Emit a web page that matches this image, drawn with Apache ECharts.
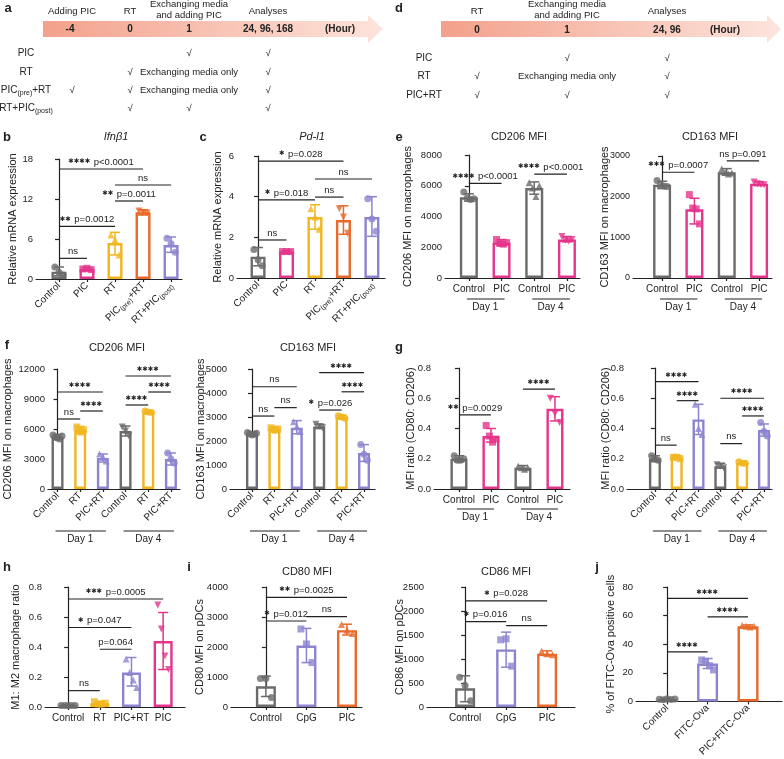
<!DOCTYPE html>
<html><head><meta charset="utf-8">
<script src="https://cdn.jsdelivr.net/npm/echarts@6/dist/echarts.min.js"></script>
<style>html,body{margin:0;padding:0;background:#fff}#c{width:784px;height:759px}</style>
</head><body><div id="c"></div>
<script>
// ---------- DATA ----------
const bLabels = ['Control','PIC','RT','PIC{s|(pre)}+RT','RT+PIC{s|(post)}'];
const bMeans = [1.1, 1.5, 5.4, 10.0, 5.1];
const bErr = [[0.5,1.8],[1.3,1.7],[3.6,7.0],[9.6,10.4],[4.0,6.3]];
const bPts = [[1.8,1.0,0.6],[1.5,1.6,1.4],[6.6,5.9,3.6],[10.2,9.9,9.9],[6.1,5.3,4.0]];
const bSig = [[0,1,3.1,'ns'],[0,2,7.9,'** p=0.0012'],[2,3,11.7,'** p=0.0011'],[2,4,14.1,'ns'],[0,3,16.5,'**** p<0.0001']];

const cLabels = bLabels;
const cMeans = [1.05, 1.3, 3.0, 2.85, 3.0];
const cErr = [[0.6,1.5],[1.25,1.35],[2.4,3.6],[2.15,3.55],[2.05,4.0]];
const cPts = [[1.4,0.9,0.6],[1.3,1.3,1.3],[3.4,3.0,2.4],[3.4,3.0,2.2],[3.9,2.9,2.3]];
const cSig = [[0,1,1.87,'ns'],[0,2,3.84,'* p=0.018'],[2,3,3.98,'ns'],[2,4,4.87,'ns'],[0,3,5.75,'* p=0.028']];

const eLabels = ['Control','PIC','Control','PIC'];
const eGroups = [[0,1,'Day 1'],[2,3,'Day 4']];
const e1Means = [5250, 2300, 5850, 2500];
const e1Err = [[5000,5480],[2100,2500],[5450,6250],[2350,2700]];
const e1Pts = [[5600,5200,5100,5150],[2500,2250,2200,2300],[6200,5850,5300,6000],[2700,2450,2400,2500]];
const e1Sig = [[0,1,6150,'**** p<0.0001'],[2,3,6750,'**** p<0.0001']];
const e2Means = [2290, 1690, 2600, 2320];
const e2Err = [[2200,2380],[1330,1960],[2530,2690],[2270,2370]];
const e2Pts = [[2400,2280,2260,2250],[2050,1720,1700,1330],[2680,2600,2560,2580],[2360,2320,2300,2290]];
const e2Sig = [[0,1,2600,'*** p=0.0007'],[2,3,2880,'ns p=0.091']];

const fLabels = ['Control','RT','PIC+RT','Control','RT','PIC+RT'];
const fGroups = [[0,2,'Day 1'],[3,5,'Day 4']];
const f1Means = [5200, 5900, 3100, 5800, 7700, 3000];
const f1Err = [[4950,5450],[5550,6250],[2700,3500],[5300,6300],[7600,7850],[2400,3600]];
const f1Pts = [[5400,5200,5100,5000,5300],[6200,5800,5700,5900],[3500,3200,2800],[6200,5800,5300],[7800,7700,7650],[3600,3000,2600]];
const f1Sig = [[0,1,7000,'ns'],[1,2,7800,'****'],[0,2,9700,'****'],[3,4,8400,'****'],[4,5,9700,'****'],[3,5,11300,'****']];
const f2Means = [2300, 2500, 2550, 2600, 3000, 1500];
const f2Err = [[2220,2380],[2430,2580],[2300,2850],[2520,2700],[2920,3080],[1150,1850]];
const f2Pts = [[2350,2300,2250,2280,2320],[2550,2480,2450,2500],[2800,2600,2400],[2700,2600,2550],[3050,3000,2950],[1850,1450,1200]];
const f2Sig = [[0,1,3040,'ns'],[1,2,3390,'ns'],[0,2,4260,'ns'],[3,4,3290,'* p=0.026'],[4,5,4050,'****'],[3,5,4850,'****']];

const g1Means = [0.20, 0.35, 0.14, 0.53];
const g1Err = [[0.18,0.22],[0.31,0.40],[0.13,0.155],[0.45,0.61]];
const g1Pts = [[0.22,0.19,0.19,0.20],[0.42,0.35,0.31,0.33],[0.15,0.14,0.13,0.14],[0.60,0.50,0.44]];
const g1Sig = [[0,1,0.49,'** p=0.0029'],[2,3,0.66,'****']];
const g2Means = [0.20, 0.21, 0.46, 0.15, 0.175, 0.39];
const g2Err = [[0.18,0.22],[0.20,0.22],[0.36,0.56],[0.14,0.17],[0.165,0.185],[0.35,0.43]];
const g2Pts = [[0.22,0.20,0.19],[0.21,0.21,0.20],[0.56,0.40,0.36],[0.16,0.15,0.14],[0.18,0.17,0.17],[0.44,0.38,0.35]];
const g2Sig = [[0,1,0.29,'ns'],[1,2,0.584,'****'],[0,2,0.71,'****'],[3,4,0.30,'ns'],[4,5,0.483,'****'],[3,5,0.60,'****']];

const hLabels = ['Control','RT','PIC+RT','PIC'];
const hMeans = [0.01, 0.025, 0.23, 0.44];
const hErr = [[0.005,0.015],[0.015,0.035],[0.14,0.33],[0.25,0.63]];
const hPts = [[0.01,0.01,0.01,0.01,0.01],[0.035,0.02,0.02,0.025],[0.32,0.23,0.18,0.13],[0.68,0.52,0.34,0.25]];
const hSig = [[0,1,0.109,'ns'],[1,2,0.385,'p=0.064'],[0,2,0.53,'* p=0.047'],[0,3,0.72,'*** p=0.0005']];

const iLabels = ['Control','CpG','PIC'];
const i1Means = [690, 2050, 2560];
const i1Err = [[350,1030],[1480,2620],[2400,2760]];
const i1Pts = [[950,950,320],[2600,2100,1480],[2750,2560,2450]];
const i1Sig = [[0,1,2867,'* p=0.012'],[1,2,3010,'ns'],[0,2,3657,'** p=0.0025']];
const i2Means = [390, 1200, 1110];
const i2Err = [[110,650],[830,1560],[1070,1170]];
const i2Pts = [[620,450,130],[1400,1420,850],[1160,1110,1090]];
const i2Sig = [[0,1,1777,'* p=0.016'],[1,2,1694,'ns'],[0,2,2211,'* p=0.028']];

const jLabels = ['Control','FITC-Ova','PIC+FITC-Ova'];
const jMeans = [1.5, 26.5, 52.5];
const jErr = [[1.0,2.0],[23,30],[51.5,53.5]];
const jPts = [[1.5,1.2,1.8,1.4,1.6],[29,28,25,22],[53,52.5,52,52.6]];
const jSig = [[0,1,34.7,'****'],[1,2,59.1,'****'],[0,2,72,'****']];

// timelines
const aSteps = ['-4','0','1','24, 96, 168','(Hour)'];
const aTop = ['Adding PIC','RT','Exchanging media\nand adding PIC','Analyses'];
const aRows = ['PIC','RT','PIC{s|(pre)}+RT','RT+PIC{s|(post)}'];
const aCells = [['','','√','√'],['','√','Exchanging media only','√'],['√','√','Exchanging media only','√'],['','√','√','√']];
const dSteps = ['0','1','24, 96','(Hour)'];
const dTop = ['RT','Exchanging media\nand adding PIC','Analyses'];
const dRows = ['PIC','RT','PIC+RT'];
const dCells = [['','√','√'],['√','Exchanging media only','√'],['√','√','√']];

// ---------- STYLE ----------
const FONT = "'Liberation Sans', Arial, sans-serif";
const GREY='#6b6b6b', PINK='#e5348b', YEL='#f1b61f', ORA='#e8692a', PUR='#8c84cf';
const INK='#222';

const option = {animation:false, backgroundColor:'#fff', textStyle:{fontFamily:FONT},
  grid:[], xAxis:[], yAxis:[], series:[], graphic:[]};

function starText(t){
  const m = t.match(/^(\*+)(.*)$/);
  if(!m) return t;
  return '{st|'+m[1].replace(/\*/g,'✱')+'}'+m[2];
}

function addPanel(p){
  const gi = option.grid.length;
  option.grid.push({left:p.box[0], top:p.box[1], width:p.box[2], height:p.box[3]});
  const idx = p.labels.map((_,i)=>i);
  option.xAxis.push({type:'value', gridIndex:gi, min:p.xr[0], max:p.xr[1], splitLine:{show:false},
    axisLine:{show:true, onZero:false, lineStyle:{color:INK,width:1.2}},
    axisTick:{show:true, customValues:idx, length:3, lineStyle:{color:INK,width:1.2}},
    axisLabel:{customValues:idx, formatter:v=>p.labels[Math.round(v)], rotate:p.rot||0, margin:p.rot?5:6,
      color:INK, fontSize:10, fontFamily:FONT, rich:{s:{fontSize:7, fontFamily:FONT, color:INK, padding:[6,0,0,0]}}}
  });
  option.yAxis.push({type:'value', gridIndex:gi, min:0, max:p.ymax, interval:p.yint, splitLine:{show:false},
    axisLine:{show:true, lineStyle:{color:INK,width:1.2}}, axisTick:{show:true,length:4,lineStyle:{color:INK,width:1.2}},
    axisLabel:{color:INK, fontSize:p.yfs||9.5, margin:3, fontFamily:FONT, formatter:p.yfmt||(v=>String(v))},
    name:p.yName, nameLocation:'middle', nameGap:p.nameGap, nameMoveOverlap:false,
    nameTextStyle:{color:INK,fontSize:11,fontFamily:FONT}
  });
  const ax = {xAxisIndex:gi, yAxisIndex:gi};
  option.series.push({type:'bar', ...ax, barWidth:p.bw||15, z:2,
    data:p.means.map((m,i)=>({value:[i,m], itemStyle:{color:'#fff', borderColor:p.colors[i], borderWidth:2.4}}))});
  option.series.push({type:'custom', ...ax, z:3, clip:false, silent:true,
    data:p.err.map((e,i)=>[i,e[0],e[1]]), encode:{x:0,y:[1,2]},
    renderItem:(params,api)=>{
      const i=api.value(0), a=api.coord([i,api.value(1)]), b=api.coord([i,api.value(2)]), w=5, c=p.colors[i];
      const st={stroke:c,lineWidth:1.5};
      return {type:'group', children:[
        {type:'line', shape:{x1:a[0],y1:a[1],x2:b[0],y2:b[1]}, style:st},
        {type:'line', shape:{x1:a[0]-w,y1:a[1],x2:a[0]+w,y2:a[1]}, style:st},
        {type:'line', shape:{x1:b[0]-w,y1:b[1],x2:b[0]+w,y2:b[1]}, style:st}]};
    }});
  const sd=[];
  const spread = (p.bw||15)/4;
  p.pts.forEach((arr,i)=>arr.forEach((v,k)=>{
    const n=arr.length, sym=p.syms[i];
    sd.push({value:[i,v], symbol: sym==='inv'?'triangle':sym, symbolRotate: sym==='inv'?180:0,
      symbolOffset:[(k-(n-1)/2)*(n>3?spread*0.75:spread*1.1),0], itemStyle:{color:p.colors[i]}});
  }));
  option.series.push({type:'scatter', ...ax, z:4, symbolSize:7, silent:true, data:sd});
  option.series.push({type:'custom', ...ax, z:5, clip:false, silent:true,
    data:p.sig.map((s,j)=>[s[0],s[1],s[2],j]), encode:{x:[0,1],y:2},
    renderItem:(params,api)=>{
      const a=api.coord([api.value(0),api.value(2)]), b=api.coord([api.value(1),api.value(2)]);
      const t=p.sig[api.value(3)][3];
      return {type:'group', children:[
        {type:'line', shape:{x1:a[0],y1:a[1],x2:b[0],y2:b[1]}, style:{stroke:INK,lineWidth:1.2}},
        {type:'text', style:{x:(a[0]+b[0])/2, y:a[1]-2, text:starText(t), fill:INK, fontSize:9.5, fontFamily:FONT,
          align:'center', verticalAlign:'bottom', rich:{st:{fontSize:6.5, fontFamily:"'DejaVu Sans'", fill:INK, padding:[0,1,1,0]}}}}]};
    }});
  if(p.groups){
    option.series.push({type:'custom', ...ax, z:5, clip:false, silent:true,
      data:p.groups.map((g,j)=>[g[0],g[1],0,j]), encode:{x:[0,1],y:2},
      renderItem:(params,api)=>{
        const a=api.coord([api.value(0),0]), b=api.coord([api.value(1),0]), y=a[1]+p.gdy;
        return {type:'group', children:[
          {type:'line', shape:{x1:a[0]-2,y1:y,x2:b[0]+3,y2:y}, style:{stroke:INK,lineWidth:1.2}},
          {type:'text', style:{x:(a[0]+b[0])/2, y:y+3, text:p.groups[api.value(3)][2], fill:INK, fontSize:10, fontFamily:FONT, align:'center', verticalAlign:'top'}}]};
      }});
  }
}

const S5 = ['circle','rect','triangle','inv','circle'];
const C5 = [GREY,PINK,YEL,ORA,PUR];
const C4e = [GREY,PINK,GREY,PINK], S4e=['circle','rect','triangle','inv'];
const C6 = [GREY,YEL,PUR,GREY,YEL,PUR], S6=['circle','rect','triangle','inv','circle','circle'];
const f1 = v=>v.toFixed(1);

addPanel({box:[36,159,146,120], xr:[-0.82,4.39], labels:bLabels, rot:45, ymax:18, yint:6, means:bMeans, err:bErr, pts:bPts, sig:bSig, colors:C5, syms:S5, yName:'Relative mRNA expression', nameGap:18});
addPanel({box:[237,156,148,122], xr:[-0.74,4.46], labels:cLabels, rot:45, ymax:6, yint:2, means:cMeans, err:cErr, pts:cPts, sig:cSig, colors:C5, syms:S5, yName:'Relative mRNA expression', nameGap:14});
addPanel({box:[445,155,135,123], xr:[-0.73,3.4], labels:eLabels, ymax:8000, yint:2000, means:e1Means, err:e1Err, pts:e1Pts, sig:e1Sig, colors:C4e, syms:S4e, yName:'CD206 MFI on macrophages', nameGap:32, groups:eGroups, gdy:21, bw:18});
addPanel({box:[633,156,139,122], xr:[-0.9,3.4], labels:eLabels, ymax:3000, yint:1000, yfs:9, means:e2Means, err:e2Err, pts:e2Pts, sig:e2Sig, colors:C4e, syms:S4e, yName:'CD163 MFI on macrophages', nameGap:23, groups:eGroups, gdy:21, bw:18});
addPanel({box:[48,369,132,120], xr:[-0.42,5.4], labels:fLabels, rot:45, ymax:12000, yint:3000, means:f1Means, err:f1Err, pts:f1Pts, sig:f1Sig, colors:C6, syms:S6, yName:'CD206 MFI on macrophages', nameGap:35, groups:fGroups, gdy:42, bw:12});
addPanel({box:[230,369,145,120], xr:[-0.98,5.49], labels:fLabels, rot:45, ymax:5000, yint:1000, means:f2Means, err:f2Err, pts:f2Pts, sig:f2Sig, colors:C6, syms:S6, yName:'CD163 MFI on macrophages', nameGap:24, groups:fGroups, gdy:42, bw:12});
addPanel({box:[434,368,136,121], xr:[-0.78,3.47], labels:eLabels, ymax:0.8, yint:0.2, yfmt:f1, means:g1Means, err:g1Err, pts:g1Pts, sig:g1Sig, colors:C4e, syms:S4e, yName:'MFI ratio (CD80: CD206)', nameGap:18, groups:eGroups, gdy:20, bw:17});
addPanel({box:[627,368,145,121], xr:[-1.28,5.37], labels:fLabels, rot:45, ymax:0.8, yint:0.2, yfmt:f1, means:g2Means, err:g2Err, pts:g2Pts, sig:g2Sig, colors:C6, syms:S6, yName:'MFI ratio (CD80: CD206)', nameGap:16, groups:fGroups, gdy:42, bw:12});
addPanel({box:[45,587,140,120], xr:[-0.73,3.69], labels:hLabels, ymax:0.8, yint:0.2, yfmt:f1, means:hMeans, err:hErr, pts:hPts, sig:hSig, colors:[GREY,YEL,PUR,PINK], syms:['circle','rect','triangle','inv'], yName:'M1: M2 macrophage ratio', nameGap:24, bw:19});
addPanel({box:[231,587,131,120], xr:[-0.86,2.37], labels:iLabels, ymax:4000, yint:1000, means:i1Means, err:i1Err, pts:i1Pts, sig:i1Sig, colors:[GREY,PUR,ORA], syms:['circle','rect','triangle'], yName:'CD80 MFI on pDCs', nameGap:26, bw:20});
addPanel({box:[427,587,148,120], xr:[-0.93,2.68], labels:iLabels, ymax:2500, yint:500, means:i2Means, err:i2Err, pts:i2Pts, sig:i2Sig, colors:[GREY,PUR,ORA], syms:['circle','rect','triangle'], yName:'CD86 MFI on pDCs', nameGap:22, bw:20});
addPanel({box:[636,587,146,120], xr:[-0.77,2.84], labels:jLabels, rot:45, ymax:80, yint:20, means:jMeans, err:jErr, pts:jPts, sig:jSig, colors:[GREY,PUR,ORA], syms:['circle','rect','triangle'], yName:'% of FITC-Ova positive cells', nameGap:20, bw:21});

// ---------- decorations ----------
const G = option.graphic;
function txt(x,y,t,o){ G.push({type:'text', x:x, y:y, silent:true, style:Object.assign({text:t, fill:INK, fontSize:10, fontFamily:FONT, align:'center', verticalAlign:'middle',
  rich:{s:{fontSize:7, fill:INK, fontFamily:FONT, padding:[6,0,0,0]}}}, o||{})}); }
function arrow(x0,x1,xt){
  G.push({type:'polygon', silent:true, shape:{points:[[x0,21],[x1,21],[x1,15],[xt,29],[x1,43],[x1,37],[x0,37]]},
    style:{fill:{type:'linear',x:0,y:0,x2:1,y2:0,colorStops:[{offset:0,color:'#f3a18b'},{offset:1,color:'#fde4dc'}]}}});
}
arrow(43,368,383);
arrow(441,767,781);
const aX=[70,130,189,268,340];
aSteps.forEach((t,i)=>txt(aX[i],29,t,{fontWeight:'bold'}));
const aTopX=[72,130,189,268];
aTop.forEach((t,i)=>txt(aTopX[i],i===2?10:11,t,{fontSize:9.5, lineHeight:11}));
const aRowY=[53,72,90,108];
aRows.forEach((t,r)=>{ txt(26,aRowY[r],t,{fontSize:10}); aCells[r].forEach((c,k)=>{ if(c) txt(aTopX[k],aRowY[r],c,{fontSize:9.5}); }); });
const dX=[477,567,667,725];
dSteps.forEach((t,i)=>txt(dX[i],30,t,{fontWeight:'bold'}));
dTop.forEach((t,i)=>txt(dX[i],i===1?10:11,t,{fontSize:9.5, lineHeight:11}));
const dRowY=[58,76,95];
dRows.forEach((t,r)=>{ txt(424,dRowY[r],t,{fontSize:10}); dCells[r].forEach((c,k)=>{ if(c) txt(dX[k],dRowY[r],c,{fontSize:9.5}); }); });

// panel letters & titles
[['a',8,8],['b',7,137],['c',203,137],['d',399,8],['e',399,137],['f',7,345],['g',399,347],['h',7,567],['i',189,567],['j',597,567]]
  .forEach(l=>txt(l[1],l[2],l[0],{fontSize:13,fontWeight:'bold'}));
[['Ifnβ1',116,137,'italic'],['Pd-l1',312,137,'italic'],['CD206 MFI',519,137],['CD163 MFI',710,137],
 ['CD206 MFI',117,348],['CD163 MFI',308,348],['CD80 MFI',307,572],['CD86 MFI',506,572]]
  .forEach(t=>txt(t[1],t[2],t[0],{fontSize:11,fontStyle:t[3]||'normal'}));

const chart = echarts.init(document.getElementById('c'), null, {renderer:'canvas'});
chart.setOption(option);
</script></body></html>
